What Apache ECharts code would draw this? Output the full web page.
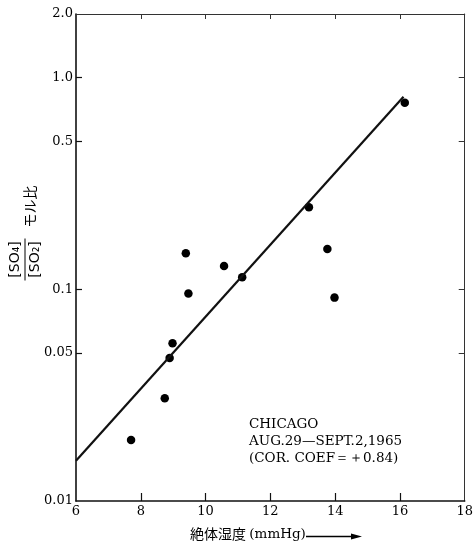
<!DOCTYPE html>
<html><head><meta charset="utf-8">
<script src="https://cdn.jsdelivr.net/npm/echarts@6/dist/echarts.min.js"></script>
<style>html,body{margin:0;padding:0;background:#fff}#c{width:476px;height:543px}</style>
</head><body><div id="c"></div>
<script>
// Data
const humidity = [7.70, 8.74, 8.89, 8.98, 9.39, 9.47, 10.57, 11.13, 13.19, 13.76, 13.98, 16.15];
const ratio    = [0.0194, 0.0306, 0.0474, 0.0556, 0.148, 0.0957, 0.129, 0.114, 0.244, 0.155, 0.0914, 0.762];
const fitX = [6, 16.11];
const fitY = [0.0155, 0.813];
const xInnerTicks = [8, 10, 12, 14, 16];
const yLabelValues = [0.01, 0.05, 0.1, 0.5, 1, 2];
const yLabelTexts  = ['0.01', '0.05', '0.1', '0.5', '1.0', '2.0'];
const yInnerTicks = [0.05, 0.1, 0.5, 1];
const noteLines = ['CHICAGO', 'AUG.29—SEPT.2,1965', '(COR. COEF＝＋0.84)'];

const serif = 'DejaVu Serif';
const ink = '#000';

function yLabel(v) {
  let best = 0, d = Infinity;
  yLabelValues.forEach((t, i) => { const e = Math.abs(Math.log(v) - Math.log(t)); if (e < d) { d = e; best = i; } });
  return yLabelTexts[best];
}

const chart = echarts.init(document.getElementById('c'), null, { renderer: 'canvas' });
const xBase = { type: 'value', min: 6, max: 18, interval: 2, splitLine: { show: false } };
const yBase = { type: 'log', logBase: 10, min: 0.01, max: 2, splitLine: { show: false }, minorTick: { show: false } };

chart.setOption({
  animation: false,
  backgroundColor: '#fff',
  grid: { left: 76, right: 9, top: 14, bottom: 42, containLabel: false },
  xAxis: [
    Object.assign({}, xBase, {
      position: 'bottom',
      axisLine: { lineStyle: { color: '#111', width: 1.6 } },
      axisTick: { inside: true, length: 8, customValues: xInnerTicks, lineStyle: { color: '#111', width: 1.2 } },
      axisLabel: { color: ink, fontFamily: serif, fontSize: 13, margin: 4 }
    }),
    Object.assign({}, xBase, {
      position: 'top',
      axisLine: { lineStyle: { color: '#333', width: 1 } },
      axisTick: { inside: true, length: 5, customValues: xInnerTicks, lineStyle: { color: '#333', width: 1 } },
      axisLabel: { show: false }
    })
  ],
  yAxis: [
    Object.assign({}, yBase, {
      position: 'left',
      axisLine: { lineStyle: { color: '#111', width: 1.6 } },
      axisTick: { inside: true, length: 6, customValues: yInnerTicks, lineStyle: { color: '#111', width: 1.2 } },
      axisLabel: { customValues: yLabelValues, formatter: yLabel, color: ink, fontFamily: serif, fontSize: 13, margin: 3 }
    }),
    Object.assign({}, yBase, {
      position: 'right',
      axisLine: { lineStyle: { color: '#333', width: 1 } },
      axisTick: { inside: true, length: 6, customValues: yInnerTicks, lineStyle: { color: '#333', width: 1 } },
      axisLabel: { show: false }
    })
  ],
  series: [
    {
      type: 'line', xAxisIndex: 0, yAxisIndex: 0,
      data: fitX.map((x, i) => [x, fitY[i]]),
      showSymbol: false, symbol: 'none',
      lineStyle: { color: '#111', width: 2.2 }
    },
    {
      type: 'scatter', xAxisIndex: 0, yAxisIndex: 0,
      data: humidity.map((x, i) => [x, ratio[i]]),
      symbol: 'circle', symbolSize: 8.5,
      itemStyle: { color: '#000', opacity: 1 }
    }
  ],
  graphic: [
    // annotation
    {
      type: 'text', left: 249, top: 416,
      style: {
        text: noteLines.join('\n'),
        font: '13.5px "DejaVu Serif"', lineHeight: 17, fill: ink
      }
    },
    // x-axis name
    {
      type: 'text', left: 190, top: 527,
      style: {
        text: '{j|絶体湿度} {s|(mmHg)}',
        rich: {
          j: { fontFamily: 'Noto Sans CJK JP', fontSize: 14, fill: ink },
          s: { fontFamily: serif, fontSize: 13.5, fill: ink }
        }
      }
    },
    { type: 'line', shape: { x1: 306, y1: 536.5, x2: 354, y2: 536.5 }, style: { stroke: ink, lineWidth: 1.5 } },
    { type: 'polygon', shape: { points: [[351, 533.5], [362, 536.5], [351, 539.5]] }, style: { fill: ink } },
    // y-axis name (rotated)
    {
      type: 'group', x: 25, y: 259.5, rotation: Math.PI / 2,
      children: [
        { type: 'text', x: 0, y: -9.5, style: { text: '[SO₄]', font: '14px "DejaVu Sans"', fill: ink, align: 'center', verticalAlign: 'middle' } },
        { type: 'line', shape: { x1: -21, y1: 0, x2: 21, y2: 0 }, style: { stroke: ink, lineWidth: 1 } },
        { type: 'text', x: 0, y: 10, style: { text: '[SO₂]', font: '14px "DejaVu Sans"', fill: ink, align: 'center', verticalAlign: 'middle' } },
        { type: 'text', x: 53, y: 5, style: { text: 'モル比', font: '14px "Noto Sans CJK JP"', fill: ink, align: 'center', verticalAlign: 'middle' } }
      ]
    }
  ]
});
</script>
</body></html>
